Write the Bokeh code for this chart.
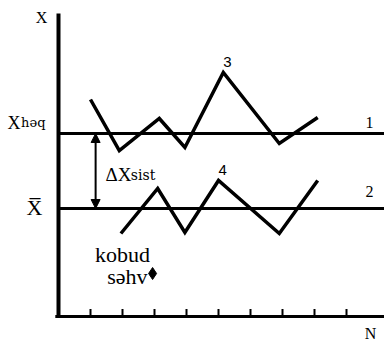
from bokeh.plotting import figure
from bokeh.models import Arrow, NormalHead, Label, Range1d
from bokeh.embed import file_html
from bokeh.resources import INLINE

# ---- data ----
n_ticks = [1, 2, 3, 4, 5, 6, 7, 8, 9]
x_true = 18.3          # X_həq, line 1
x_mean = 10.8          # X-bar, line 2
series3_n = [1.0, 1.9, 3.15, 3.95, 5.15, 6.9, 8.1]
series3_x = [21.7, 16.6, 19.8, 16.9, 24.4, 17.3, 19.9]
series4_n = [1.95, 3.1, 3.95, 5.0, 6.9, 8.1]
series4_x = [8.3, 12.8, 8.4, 13.6, 8.3, 13.6]
gross_n = [2.94]
gross_x = [4.3]
n_max = 10.1875
x_top = 30.3

SERIF = "Liberation Serif"
WIDE = "DejaVu Serif"
SANS = "Liberation Sans"

p = figure(width=384, height=344, output_backend="svg", toolbar_location=None,
           x_range=Range1d(-1.8125, n_max), y_range=Range1d(-2.8, 31.6),
           min_border=0, outline_line_color=None,
           background_fill_color="white", border_fill_color="white")
p.grid.visible = False
p.axis.visible = False

# axes (drawn in data coordinates)
p.segment(x0=[0], y0=[-0.15], x1=[0], y1=[x_top], line_color="black", line_width=4)
p.segment(x0=[-0.1], y0=[0], x1=[n_max], y1=[0], line_color="black", line_width=3)
p.segment(x0=n_ticks, y0=[0] * len(n_ticks), x1=n_ticks, y1=[0.75] * len(n_ticks),
          line_color="black", line_width=2)

# horizontal reference lines
p.segment(x0=[0, 0], y0=[x_true, x_mean], x1=[n_max, n_max], y1=[x_true, x_mean],
          line_color="black", line_width=3)

# zigzag series
p.line(series3_n, series3_x, line_color="black", line_width=3.5, line_join="miter")
p.line(series4_n, series4_x, line_color="black", line_width=3.5, line_join="miter")

# gross error point
p.scatter(gross_n, gross_x, marker="diamond", size=12, color="black")

# systematic error arrow
p.add_layout(Arrow(start=NormalHead(size=9, fill_color="black", line_color="black"),
                   end=NormalHead(size=9, fill_color="black", line_color="black"),
                   x_start=1.16, y_start=x_true, x_end=1.16, y_end=x_mean,
                   line_width=2, line_color="black"))

DY = 0.6  # compensation for rendered text baseline offset

def lab(x, y, text, size, font=SERIF, align="left"):
    p.add_layout(Label(x=x, y=y + DY, text=text, text_font=font,
                       text_font_size=f"{size}px", text_align=align,
                       text_baseline="alphabetic", text_color="black"))

lab(-0.53, 29.3, "X", 16, align="center")
lab(-1.19, 18.8, "X", 18, align="right")
lab(-1.17, 18.8, "həq", 13, font=WIDE)
lab(-0.75, 10.3, "X\u0305", 22, align="center")
lab(1.47, 13.6, "ΔX", 19)
lab(2.26, 13.6, "sist", 14, font=WIDE)
lab(9.72, 18.8, "1", 16, align="center")
lab(9.72, 11.9, "2", 16, align="center")
lab(5.28, 24.9, "3", 15, font=SANS, align="center")
lab(5.13, 14.1, "4", 15, font=SANS, align="center")
lab(2.0, 5.6, "kobud", 22, align="center")
lab(2.78, 3.4, "səhv", 22, align="right")
lab(9.75, -2.3, "N", 16, align="center")

open("out.html", "w").write(file_html(p, INLINE))
